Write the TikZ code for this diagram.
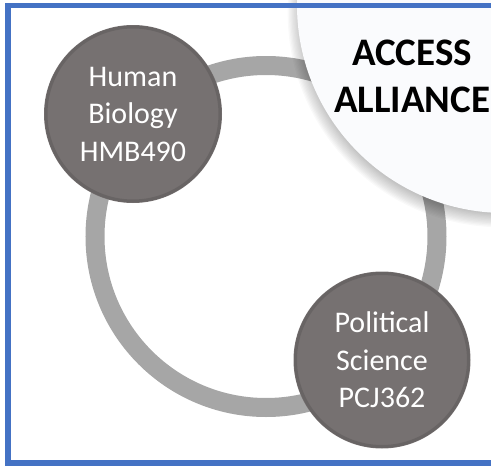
\documentclass[tikz,border=0pt]{standalone}
\usepackage{fontspec}
\setmainfont{Carlito}
\definecolor{ringgray}{RGB}{166,166,166}
\definecolor{darkdisc}{RGB}{118,113,113}
\definecolor{darkrim}{RGB}{80,76,76}
\definecolor{frameblue}{RGB}{68,114,196}
\definecolor{paleface}{RGB}{250,251,253}
\tikzset{
  disc/.style={circle, inner sep=0pt, fill=darkdisc, text=white, align=center,
    font=\fontsize{30}{37.5}\selectfont},
  hub/.style={circle, inner sep=0pt, fill=paleface},
  hubtext/.style={align=center, text=black, font=\fontsize{39}{47}\selectfont\bfseries},
}
\begin{document}
\begin{tikzpicture}[x=1pt,y=-1pt]
\useasboundingbox (0,0) rectangle (491,466);
\begin{scope}
\clip (0,0) rectangle (491,466);
% ring
\node[circle, draw=ringgray, line width=19pt, minimum size=342pt, inner sep=0pt] (ring) at (266,236.5) {};
% soft shadow of the hub
\foreach \i in {0,...,11}
  \fill[black, opacity=0.025] (502,13) circle ({200+\i*1.3});
% hub
\node[hub, minimum size=416pt] (aa) at (505,5) {};
\node[hubtext] (aatext) at (412,76) {ACCESS\\ALLIANCE};
% discs
\node[disc, minimum size=178pt] (hb) at (133,114) {Human\\Biology\\HMB490};
\draw[darkrim, opacity=0.35, line width=3pt] (hb.center) circle (87);
\node[disc, minimum size=177pt] (ps) at (382,360) {Political\\Science\\PCJ362};
\draw[darkrim, opacity=0.35, line width=3pt] (ps.center) circle (86.5);
% frame
\draw[frameblue, line width=5.5pt] (8,5.5) rectangle (530,463);
\end{scope}
\end{tikzpicture}
\end{document}
